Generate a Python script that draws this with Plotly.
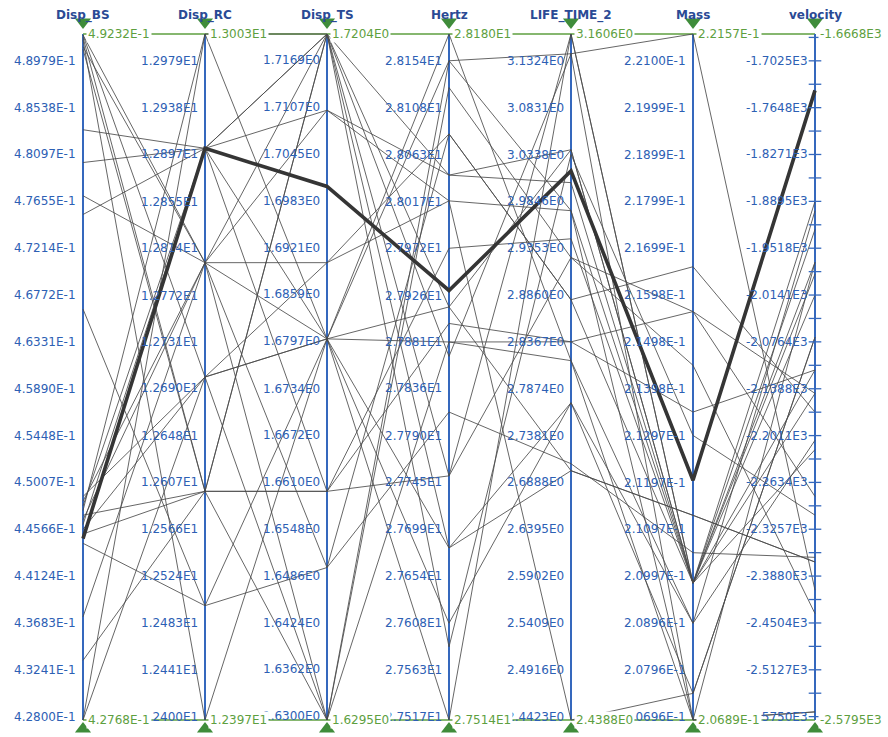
import math
import plotly.graph_objects as go

# Axis names and their displayed ranges (bottom / top values)
dimensions = ["Disp_BS", "Disp_RC", "Disp_TS", "Hertz", "LIFE_TIME_2", "Mass", "velocity"]
range_low = [0.42768, 12.397, 1.6295, 27.514, 2.4388, 0.20689, -2579.5]
range_high = [0.49232, 13.003, 1.7204, 28.180, 3.1606, 0.22157, -1666.8]

# Tick values shown on each axis
ticks_disp_bs = [0.48979, 0.48538, 0.48097, 0.47655, 0.47214, 0.46772, 0.46331, 0.45890,
                 0.45448, 0.45007, 0.44566, 0.44124, 0.43683, 0.43241, 0.42800]
ticks_disp_rc = [12.979, 12.938, 12.897, 12.855, 12.814, 12.772, 12.731, 12.690,
                 12.648, 12.607, 12.566, 12.524, 12.483, 12.441, 12.400]
ticks_disp_ts = [1.7169, 1.7107, 1.7045, 1.6983, 1.6921, 1.6859, 1.6797, 1.6734,
                 1.6672, 1.6610, 1.6548, 1.6486, 1.6424, 1.6362, 1.6300]
ticks_hertz = [28.154, 28.108, 28.063, 28.017, 27.972, 27.926, 27.881, 27.836,
               27.790, 27.745, 27.699, 27.654, 27.608, 27.563, 27.517]
ticks_life = [3.1324, 3.0831, 3.0338, 2.9846, 2.9353, 2.8860, 2.8367, 2.7874,
              2.7381, 2.6888, 2.6395, 2.5902, 2.5409, 2.4916, 2.4423]
ticks_mass = [0.22100, 0.21999, 0.21899, 0.21799, 0.21699, 0.21598, 0.21498, 0.21398,
              0.21297, 0.21197, 0.21097, 0.20997, 0.20896, 0.20796, 0.20696]
ticks_velocity = [-1702.5, -1764.8, -1827.1, -1889.5, -1951.8, -2014.1, -2076.4, -2138.8,
                  -2201.1, -2263.4, -2325.7, -2388.0, -2450.4, -2512.7, -2575.0]
axis_ticks = [ticks_disp_bs, ticks_disp_rc, ticks_disp_ts, ticks_hertz,
              ticks_life, ticks_mass, ticks_velocity]

# Design records (first record is the highlighted one)
disp_bs = [0.44477, 0.49222, 0.49222, 0.49200, 0.49178, 0.49111, 0.49089, 0.48330, 0.48021,
           0.47708, 0.47531, 0.46640, 0.44874, 0.44830, 0.44786, 0.44742, 0.44698, 0.44654,
           0.44610, 0.44565, 0.44521, 0.44433, 0.43740, 0.43330, 0.42768, 0.42768]
disp_rc = [12.902, 12.801, 12.700, 12.599, 12.397, 12.801, 12.599, 12.902, 12.902,
           12.801, 12.902, 12.498, 12.700, 12.801, 12.902, 13.003, 12.599, 12.801,
           12.902, 12.700, 12.599, 12.498, 12.801, 12.599, 13.003, 12.700]
disp_ts = [1.7002, 1.7204, 1.6800, 1.6598, 1.6800, 1.6901, 1.7204, 1.7204, 1.7103,
           1.6497, 1.6800, 1.6497, 1.6295, 1.6800, 1.6598, 1.6800, 1.6295, 1.7103,
           1.7204, 1.6800, 1.7204, 1.6800, 1.6295, 1.6598, 1.7204, 1.6901]
hertz = [27.931, 27.751, 28.154, 27.899, 27.681, 28.018, 27.915, 27.867, 28.043,
         28.083, 27.514, 27.813, 28.128, 27.608, 27.972, 28.180, 27.881, 28.018,
         27.585, 27.881, 28.043, 27.915, 28.154, 27.751, 27.681, 28.083]
life_time_2 = [3.0166, 3.1606, 2.9747, 2.8367, 2.7011, 2.4388, 3.0388, 3.1398, 3.0042,
               2.8810, 3.1606, 2.7085, 2.9254, 2.7726, 2.9451, 2.8169, 2.8367, 2.9747,
               3.0338, 2.8169, 3.0388, 2.7011, 3.1398, 2.9254, 2.7726, 2.8810]
mass = [0.21202, 0.20982, 0.20982, 0.21563, 0.21127, 0.20746, 0.20982, 0.22157, 0.20982,
        0.21659, 0.20982, 0.21047, 0.21448, 0.20896, 0.20982, 0.20689, 0.21348, 0.20689,
        0.21298, 0.20896, 0.20982, 0.21127, 0.20689, 0.21563, 0.20746, 0.20982]
velocity = [-1741.8, -1889.5, -1986.1, -2282.1, -2369.3, -2070.2, -2145.0, -2406.7, -2219.8,
            -2169.9, -1926.9, -2363.1, -2437.9, -1901.9, -2014.1, -2568.7, -2113.8, -1970.5,
            -2307.0, -2207.3, -1970.5, -2369.3, -2568.7, -2145.0, -2070.2, -2113.8]
highlight = 0

columns = [disp_bs, disp_rc, disp_ts, hertz, life_time_2, mass, velocity]

# Page geometry (pixels)
W, H = 888, 737
X0, DX = 83, 122            # first axis position and axis spacing
Y_BOTTOM, Y_SPAN = 720, 686  # pixel row of range bottom and axis length

AXIS_BLUE = "#3568bd"
LABEL_BLUE = "#2d60b4"
TITLE_BLUE = "#2a4a95"
RANGE_GREEN = "#5e9f3f"
MARK_GREEN = "#3f8c3a"
FONT = "DejaVu Sans"


def norm(i, v):
    return (v - range_low[i]) / (range_high[i] - range_low[i])


def sci(v):
    e = int(math.floor(math.log10(abs(v))))
    return f"{v / 10 ** e:.4f}E{e}"


def px(n):
    return n / Y_SPAN


fig = go.Figure()

# thin record lines
xs, ys = [], []
n = len(disp_bs)
for r in range(n):
    if r == highlight:
        continue
    for i in range(len(dimensions)):
        xs.append(i)
        ys.append(norm(i, columns[i][r]))
    xs.append(None)
    ys.append(None)
fig.add_trace(go.Scatter(x=xs, y=ys, mode="lines",
                         line=dict(color="#4a4a4a", width=0.85), hoverinfo="skip"))

# highlighted record
fig.add_trace(go.Scatter(
    x=list(range(len(dimensions))),
    y=[norm(i, columns[i][highlight]) for i in range(len(dimensions))],
    mode="lines", line=dict(color="#353535", width=3.6), hoverinfo="skip"))

# velocity axis tick marks (major + half steps)
vi = len(dimensions) - 1
vt = ticks_velocity
step = vt[0] - vt[1]
marks = [vt[0] + step / 2] + vt + [(a + b) / 2 for a, b in zip(vt[:-1], vt[1:])]
fig.add_trace(go.Scatter(
    x=[vi] * len(marks), y=[norm(vi, v) for v in marks], mode="markers",
    marker=dict(symbol="line-ew", size=9, line=dict(color=AXIS_BLUE, width=1.3)),
    hoverinfo="skip"))

# range handles (triangles)
k = len(dimensions)
fig.add_trace(go.Scatter(
    x=list(range(k)), y=[1 + px(12)] * k, mode="markers",
    marker=dict(symbol="triangle-down", size=14, color=MARK_GREEN), hoverinfo="skip"))
fig.add_trace(go.Scatter(
    x=list(range(k)), y=[-px(9)] * k, mode="markers",
    marker=dict(symbol="triangle-up", size=14, color=MARK_GREEN), hoverinfo="skip"))

shapes = []
annotations = []
for i, name in enumerate(dimensions):
    # axis line
    shapes.append(dict(type="line", x0=i, x1=i, y0=0, y1=1, layer="below",
                       line=dict(color=AXIS_BLUE, width=2)))
    # range lines between neighbouring axes
    if i < k - 1:
        for yv in (0, 1):
            shapes.append(dict(type="line", x0=i, x1=i + 1, y0=yv, y1=yv, layer="below",
                               line=dict(color=RANGE_GREEN, width=1.5)))
    # tick labels
    for t in axis_ticks[i]:
        annotations.append(dict(x=i, y=norm(i, t), text=sci(t), showarrow=False,
                                xanchor="right", yanchor="middle", xshift=-5,
                                font=dict(family=FONT, size=12, color=LABEL_BLUE)))
    # title
    annotations.append(dict(x=i, y=1 + px(19), text=f"<b>{name}</b>", showarrow=False,
                            xanchor="center", yanchor="middle",
                            font=dict(family=FONT, size=12, color=TITLE_BLUE)))

# range values drawn last so they sit over the tick labels
for i in range(k):
    for yv, val in ((1, range_high[i]), (0, range_low[i])):
        annotations.append(dict(x=i, y=yv, text=sci(val), showarrow=False,
                                xanchor="left", yanchor="middle", xshift=3,
                                bgcolor="white", borderpad=1,
                                font=dict(family=FONT, size=12, color=RANGE_GREEN)))

fig.update_layout(
    width=W, height=H,
    margin=dict(l=0, r=0, t=0, b=0),
    paper_bgcolor="white", plot_bgcolor="white",
    showlegend=False,
    shapes=shapes, annotations=annotations,
    xaxis=dict(visible=False, range=[-X0 / DX, (W - X0) / DX], fixedrange=True),
    yaxis=dict(visible=False, range=[-(H - Y_BOTTOM) / Y_SPAN, Y_BOTTOM / Y_SPAN],
               fixedrange=True),
)

fig.write_html("out.html")
